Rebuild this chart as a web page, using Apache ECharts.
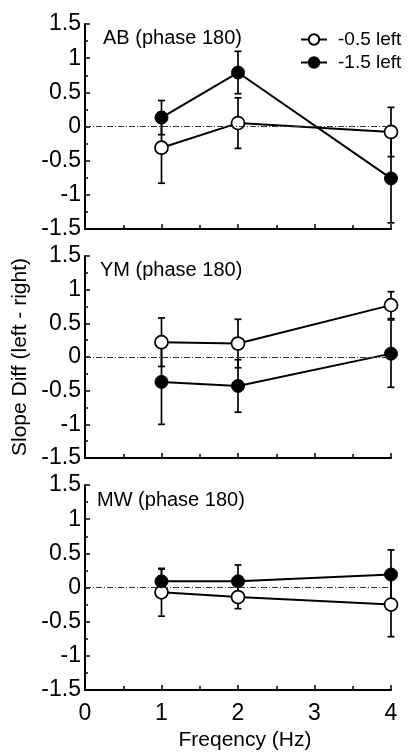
<!DOCTYPE html>
<html>
<head>
<meta charset="utf-8">
<script src="https://cdn.jsdelivr.net/npm/echarts@6/dist/echarts.min.js"></script>
<style>
html,body{margin:0;padding:0;background:#fff;}
#chart{width:417px;height:755px;}
</style>
</head>
<body>
<div id="chart"></div>
<script>
// ---- data ----
var freqs = [1, 2, 4];
var xTicks = [0, 1, 2, 3, 4];
var yTicks = [-1.5, -1, -0.5, 0, 0.5, 1, 1.5];
var panelTitles = ['AB (phase 180)', 'YM (phase 180)', 'MW (phase 180)'];
var seriesNames = ['-0.5 left', '-1.5 left'];

var AB_open = [-0.31, 0.05, -0.08];
var AB_open_err = [0.52, 0.37, 0.36];
var AB_filled = [0.13, 0.79, -0.76];
var AB_filled_err = [0.25, 0.31, 0.65];

var YM_open = [0.22, 0.20, 0.77];
var YM_open_err = [0.36, 0.36, 0.20];
var YM_filled = [-0.37, -0.43, 0.05];
var YM_filled_err = [0.63, 0.39, 0.50];

var MW_open = [-0.07, -0.14, -0.25];
var MW_open_err = [0.35, 0.17, 0.47];
var MW_filled = [0.09, 0.09, 0.19];
var MW_filled_err = [0.18, 0.24, 0.36];

var panels = [
  {open: AB_open, openErr: AB_open_err, filled: AB_filled, filledErr: AB_filled_err},
  {open: YM_open, openErr: YM_open_err, filled: YM_filled, filledErr: YM_filled_err},
  {open: MW_open, openErr: MW_open_err, filled: MW_filled, filledErr: MW_filled_err}
];

// ---- layout ----
var FONT = '"Liberation Sans", Arial, Helvetica, sans-serif';
var gridTops = [24, 256, 485];
var gridHeights = [205, 202, 205];
var titleTops = [28, 260, 490];
var titleLefts = [103, 100, 97];

var chart = echarts.init(document.getElementById('chart'), null, {renderer: 'canvas'});

function pairs(xs, ys) { return xs.map(function (x, i) { return [x, ys[i]]; }); }
function errData(xs, ys, es) { return xs.map(function (x, i) { return [x, ys[i], es[i]]; }); }

function errorRender(params, api) {
  var x = api.value(0), y = api.value(1), e = api.value(2);
  var lo = api.coord([x, y - e]);
  var hi = api.coord([x, y + e]);
  var cw = 3.5;
  var st = {stroke: '#000', lineWidth: 1.7};
  return {
    type: 'group',
    children: [
      {type: 'line', shape: {x1: lo[0], y1: lo[1], x2: hi[0], y2: hi[1]}, style: st},
      {type: 'line', shape: {x1: lo[0] - cw, y1: lo[1], x2: lo[0] + cw, y2: lo[1]}, style: st},
      {type: 'line', shape: {x1: hi[0] - cw, y1: hi[1], x2: hi[0] + cw, y2: hi[1]}, style: st}
    ]
  };
}

var grids = [], xAxes = [], yAxes = [], series = [], titles = [];
panels.forEach(function (p, i) {
  grids.push({left: 85, right: 26, top: gridTops[i], height: gridHeights[i]});
  titles.push({text: panelTitles[i], left: titleLefts[i], top: titleTops[i], padding: 0,
    textStyle: {fontFamily: FONT, fontSize: 20, fontWeight: 'normal', color: '#000'}});
  xAxes.push({
    type: 'value', gridIndex: i, min: xTicks[0], max: xTicks[xTicks.length - 1], interval: 1,
    axisLine: {show: true, onZero: false, lineStyle: {color: '#000', width: 2}},
    axisTick: {show: true, inside: true, length: 5, lineStyle: {color: '#000', width: 1.5}},
    minorTick: {show: true, splitNumber: 2, length: 4, lineStyle: {color: '#000', width: 1.5}},
    splitLine: {show: false},
    axisLabel: {show: i === 2, margin: 12, fontFamily: FONT, fontSize: 23, color: '#000'},
    name: i === 2 ? 'Freqency (Hz)' : '',
    nameLocation: 'middle', nameGap: 40,
    nameTextStyle: {fontFamily: FONT, fontSize: 21, color: '#000', padding: [0, 0, 0, 14]}
  });
  yAxes.push({
    type: 'value', gridIndex: i, min: yTicks[0], max: yTicks[yTicks.length - 1], interval: 0.5,
    axisLine: {show: true, onZero: false, lineStyle: {color: '#000', width: 2}},
    axisTick: {show: true, inside: true, length: 5, lineStyle: {color: '#000', width: 1.5}},
    minorTick: {show: true, splitNumber: 2, length: 3, lineStyle: {color: '#000', width: 1.5}},
    splitLine: {show: false},
    axisLabel: {margin: 4, fontFamily: FONT, fontSize: 23, color: '#000'},
    name: i === 1 ? 'Slope Diff (left - right)' : '',
    nameLocation: 'middle', nameRotate: 90, nameGap: 53,
    nameTextStyle: {fontFamily: FONT, fontSize: 21, color: '#000'}
  });
  // error bars (below markers)
  series.push({
    type: 'custom', xAxisIndex: i, yAxisIndex: i, z: 1, silent: true,
    renderItem: errorRender, data: errData(freqs, p.open, p.openErr)
  });
  series.push({
    type: 'custom', xAxisIndex: i, yAxisIndex: i, z: 1, silent: true,
    renderItem: errorRender, data: errData(freqs, p.filled, p.filledErr)
  });
  // lines + markers
  series.push({
    name: seriesNames[0], type: 'line', xAxisIndex: i, yAxisIndex: i, z: 3,
    data: pairs(freqs, p.open), symbol: 'circle', symbolSize: 13,
    lineStyle: {color: '#000', width: 2},
    itemStyle: {color: '#fff', borderColor: '#000', borderWidth: 1.7},
    animation: false,
    markLine: {
      silent: true, symbol: ['none', 'none'], label: {show: false}, animation: false,
      lineStyle: {color: '#333', width: 1, type: [6, 2, 1, 2]},
      data: [{yAxis: 0}]
    }
  });
  series.push({
    name: seriesNames[1], type: 'line', xAxisIndex: i, yAxisIndex: i, z: 4,
    data: pairs(freqs, p.filled), symbol: 'circle', symbolSize: 13,
    lineStyle: {color: '#000', width: 2},
    itemStyle: {color: '#000', borderColor: '#000', borderWidth: 1},
    animation: false
  });
});

chart.setOption({
  animation: false,
  backgroundColor: '#fff',
  title: titles,
  legend: {
    data: seriesNames, orient: 'vertical', left: 300, top: 30, padding: 0,
    itemWidth: 26, itemHeight: 13, itemGap: 4,
    textStyle: {fontFamily: FONT, fontSize: 19, color: '#000', padding: [0, 0, 0, 6]}
  },
  grid: grids,
  xAxis: xAxes,
  yAxis: yAxes,
  series: series
});
</script>
</body>
</html>
